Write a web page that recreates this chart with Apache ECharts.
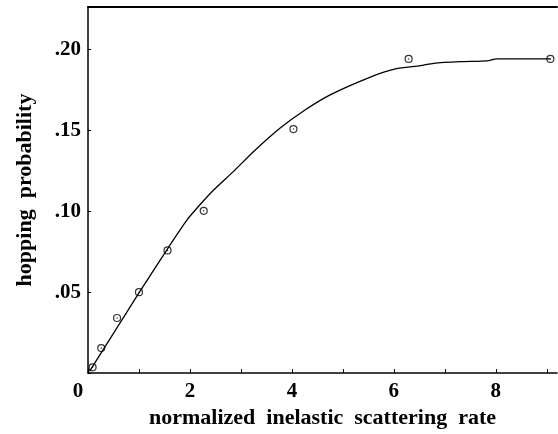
<!DOCTYPE html>
<html>
<head>
<meta charset="utf-8">
<script src="https://cdn.jsdelivr.net/npm/echarts@6/dist/echarts.min.js"></script>
<style>
  html, body { margin: 0; padding: 0; background: #fff; }
  #chart { width: 558px; height: 434px; }
</style>
</head>
<body>
<div id="chart"></div>
<script>
// measured points (circles)
const pointX = [0.09, 0.26, 0.57, 1.0, 1.56, 2.27, 4.03, 6.29, 9.07];
const pointY = [0.0035, 0.0154, 0.034, 0.05, 0.0758, 0.1003, 0.1508, 0.1942, 0.1942];

// fitted curve
const curveX = [0.03, 1.0, 1.56, 1.95, 2.2, 2.46, 2.85, 3.25, 3.77, 4.25, 4.75, 5.54, 6.03, 6.52, 6.78, 7.3, 7.83, 8.02, 9.07];
const curveY = [0.001, 0.0495, 0.0768, 0.095, 0.1042, 0.113, 0.1245, 0.137, 0.1515, 0.1625, 0.172, 0.183, 0.188, 0.19, 0.1915, 0.1925, 0.193, 0.1942, 0.1942];

const xName = 'normalized  inelastic  scattering  rate';
const yName = 'hopping  probability';

const font = '"Liberation Serif", "DejaVu Serif", serif';

const chart = echarts.init(document.getElementById('chart'));

chart.setOption({
  animation: false,
  grid: { left: 88, top: 7, width: 469, height: 367 },
  xAxis: [
    {
      type: 'value',
      min: 0,
      max: 9.2,
      interval: 1,
      name: xName,
      nameLocation: 'middle',
      nameGap: 34,
      nameTextStyle: { color: '#000', fontFamily: font, fontSize: 22, fontWeight: 'bold' },
      axisLine: { lineStyle: { color: '#000', width: 1.5 } },
      axisTick: { inside: true, length: 4, lineStyle: { color: '#000', width: 1 } },
      splitLine: { show: false },
      axisLabel: {
        color: '#000',
        fontFamily: font,
        fontSize: 21,
        fontWeight: 'bold',
        margin: 8,
        showMaxLabel: false,
        formatter: v => v === 0 ? '{z|0}' : (v % 2 === 0 ? String(v) : ''),
        rich: { z: { fontFamily: font, fontSize: 21, fontWeight: 'bold', color: '#000', padding: [0, 20, 0, 0] } }
      }
    },
    {
      type: 'value',
      position: 'top',
      min: 0,
      max: 9.2,
      axisLine: { show: true, lineStyle: { color: '#000', width: 2 } },
      axisTick: { show: false },
      axisLabel: { show: false },
      splitLine: { show: false }
    }
  ],
  yAxis: {
    type: 'value',
    min: 0,
    max: 0.2263,
    interval: 0.05,
    name: yName,
    nameLocation: 'middle',
    nameGap: 52,
    nameTextStyle: { color: '#000', fontFamily: font, fontSize: 22, fontWeight: 'bold' },
    axisLine: { show: true, lineStyle: { color: '#000', width: 1.5 } },
    axisTick: { inside: true, length: 3, lineStyle: { color: '#000', width: 1 } },
    splitLine: { show: false },
    axisLabel: {
      color: '#000',
      fontFamily: font,
      fontSize: 21,
      fontWeight: 'bold',
      margin: 7,
      showMaxLabel: false,
      formatter: v => v === 0 ? '' : '.' + String(Math.round(v * 100)).padStart(2, '0')
    }
  },
  series: [
    {
      type: 'line',
      data: curveX.map((x, i) => [x, curveY[i]]),
      showSymbol: false,
      smooth: 0.2,
      lineStyle: { color: '#000', width: 1.3 }
    },
    {
      type: 'scatter',
      data: pointX.map((x, i) => [x, pointY[i]]),
      symbol: 'circle',
      symbolSize: 7,
      itemStyle: { color: '#fff', borderColor: '#000', borderWidth: 1.2 }
    },
    {
      type: 'scatter',
      data: pointX.map((x, i) => [x, pointY[i]]),
      symbol: 'circle',
      symbolSize: 1.5,
      itemStyle: { color: '#000' }
    }
  ]
});
</script>
</body>
</html>
